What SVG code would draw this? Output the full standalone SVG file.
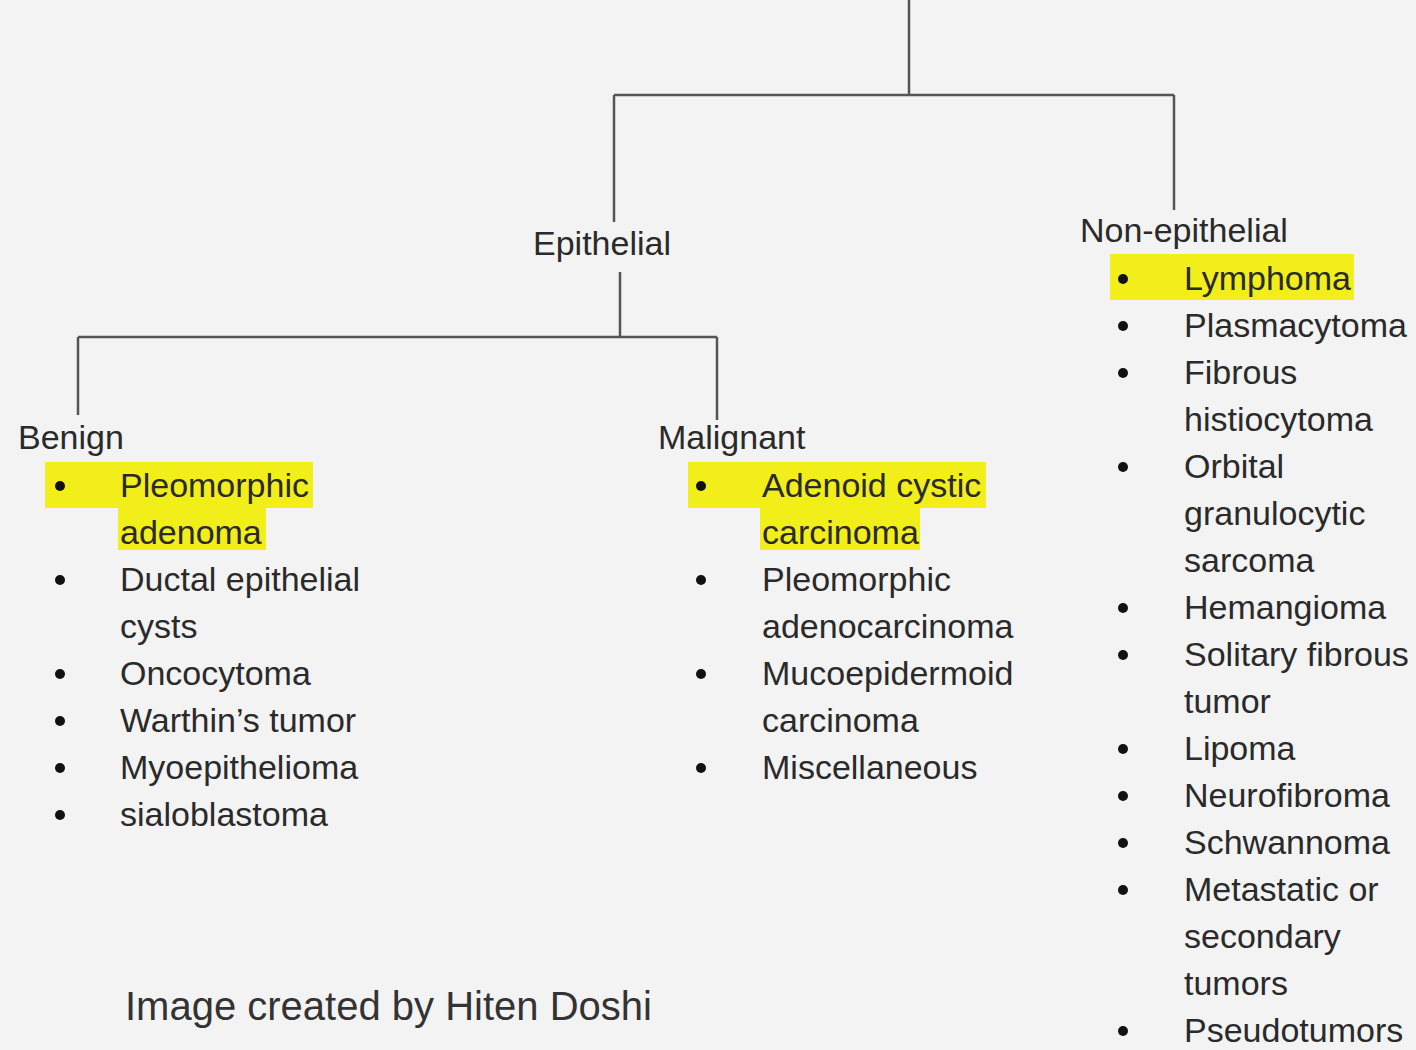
<svg xmlns="http://www.w3.org/2000/svg" width="1416" height="1050" viewBox="0 0 1416 1050">
<style>
.t{font-family:"Liberation Sans",Arial,sans-serif;font-size:34px;fill:#2a2a2a}
.h{fill:#f2ee1a}
.c{stroke:#555;stroke-width:2.5;fill:none}
.b{fill:#111}
</style>
<defs><circle id="dot" r="5"/></defs>
<rect width="1416" height="1050" fill="#f3f3f3"/>
<g id="connectors">
<path class="c" d="M909 0V95M614 95H1174M614 95V222M1174 95V210"/>
<path class="c" d="M620 272V337M78 337H717M78 337V415M717 337V420"/>
</g>
<g id="epithelial"><text class="t" x="533" y="255">Epithelial</text></g>
<g id="benign">
<rect class="h" x="45" y="462" width="268" height="46"/>
<rect class="h" x="118" y="506" width="148" height="44"/>
<text class="t" x="18" y="449">Benign</text>
<g class="b"><use href="#dot" x="60" y="486"/><use href="#dot" x="60" y="580"/><use href="#dot" x="60" y="674"/><use href="#dot" x="60" y="721"/><use href="#dot" x="60" y="768"/><use href="#dot" x="60" y="815"/></g>
<text class="t" x="120" y="497">Pleomorphic</text>
<text class="t" x="120" y="544">adenoma</text>
<text class="t" x="120" y="591">Ductal epithelial</text>
<text class="t" x="120" y="638">cysts</text>
<text class="t" x="120" y="685">Oncocytoma</text>
<text class="t" x="120" y="732">Warthin’s tumor</text>
<text class="t" x="120" y="779">Myoepithelioma</text>
<text class="t" x="120" y="826">sialoblastoma</text>
</g>
<g id="malignant">
<rect class="h" x="688" y="462" width="298" height="46"/>
<rect class="h" x="760" y="506" width="160" height="44"/>
<text class="t" x="658" y="449">Malignant</text>
<g class="b"><use href="#dot" x="701" y="486"/><use href="#dot" x="701" y="580"/><use href="#dot" x="701" y="674"/><use href="#dot" x="701" y="768"/></g>
<text class="t" x="762" y="497">Adenoid cystic</text>
<text class="t" x="762" y="544">carcinoma</text>
<text class="t" x="762" y="591">Pleomorphic</text>
<text class="t" x="762" y="638">adenocarcinoma</text>
<text class="t" x="762" y="685">Mucoepidermoid</text>
<text class="t" x="762" y="732">carcinoma</text>
<text class="t" x="762" y="779">Miscellaneous</text>
</g>
<g id="non-epithelial">
<rect class="h" x="1110" y="254" width="244" height="46"/>
<text class="t" x="1080" y="242">Non-epithelial</text>
<g class="b"><use href="#dot" x="1123" y="279"/><use href="#dot" x="1123" y="326"/><use href="#dot" x="1123" y="373"/><use href="#dot" x="1123" y="467"/><use href="#dot" x="1123" y="608"/><use href="#dot" x="1123" y="655"/><use href="#dot" x="1123" y="749"/><use href="#dot" x="1123" y="796"/><use href="#dot" x="1123" y="843"/><use href="#dot" x="1123" y="890"/><use href="#dot" x="1123" y="1031"/></g>
<text class="t" x="1184" y="290">Lymphoma</text>
<text class="t" x="1184" y="337">Plasmacytoma</text>
<text class="t" x="1184" y="384">Fibrous</text>
<text class="t" x="1184" y="431">histiocytoma</text>
<text class="t" x="1184" y="478">Orbital</text>
<text class="t" x="1184" y="525">granulocytic</text>
<text class="t" x="1184" y="572">sarcoma</text>
<text class="t" x="1184" y="619">Hemangioma</text>
<text class="t" x="1184" y="666">Solitary fibrous</text>
<text class="t" x="1184" y="713">tumor</text>
<text class="t" x="1184" y="760">Lipoma</text>
<text class="t" x="1184" y="807">Neurofibroma</text>
<text class="t" x="1184" y="854">Schwannoma</text>
<text class="t" x="1184" y="901">Metastatic or</text>
<text class="t" x="1184" y="948">secondary</text>
<text class="t" x="1184" y="995">tumors</text>
<text class="t" x="1184" y="1042">Pseudotumors</text>
</g>
<g id="credit"><text class="t" x="125" y="1020" style="font-size:40px;fill:#333">Image created by Hiten Doshi</text></g>
</svg>
